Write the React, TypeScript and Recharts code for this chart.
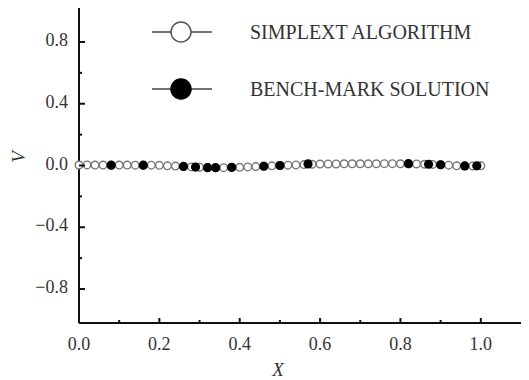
import { ScatterChart, Scatter, XAxis, YAxis } from 'recharts';

// simplex algorithm samples (open circles)
const simplexX = [
  0.0, 0.02, 0.04, 0.06, 0.08, 0.1, 0.12, 0.14, 0.16, 0.18, 0.2,
  0.22, 0.24, 0.26, 0.28, 0.3, 0.32, 0.34, 0.36, 0.38, 0.4,
  0.42, 0.44, 0.46, 0.48,
  0.5, 0.52, 0.54, 0.56, 0.58, 0.6, 0.62, 0.64, 0.66, 0.68,
  0.7, 0.72, 0.74, 0.76, 0.78, 0.8, 0.82, 0.84,
  0.86, 0.88, 0.9, 0.92, 0.94, 0.96, 0.98, 1.0,
];
const simplexY = [
  0.003, 0.004, 0.003, 0.003, 0.002, 0.003, 0.003, 0.002, 0.002, 0.002, 0.001,
  -0.002, -0.004, -0.006, -0.009, -0.011, -0.013, -0.014, -0.014, -0.013, -0.012,
  -0.009, -0.007, -0.004, -0.002,
  0.0, 0.002, 0.004, 0.006, 0.008, 0.009, 0.01, 0.01, 0.011, 0.011,
  0.011, 0.011, 0.011, 0.012, 0.012, 0.011, 0.011, 0.01,
  0.008, 0.007, 0.005, 0.002, -0.002, -0.004, -0.003, -0.002,
];

// bench-mark solution (filled circles)
const benchX = [0.08, 0.16, 0.26, 0.29, 0.32, 0.34, 0.38, 0.46, 0.5, 0.57, 0.82, 0.87, 0.9, 0.96, 0.99];
const benchY = [0.002, 0.002, -0.006, -0.01, -0.014, -0.014, -0.012, -0.005, 0.0, 0.01, 0.012, 0.008, 0.005, -0.003, -0.002];

const xTicks = [0, 0.1, 0.2, 0.3, 0.4, 0.5, 0.6, 0.7, 0.8, 0.9, 1.0];
const yTicks = [-0.8, -0.6, -0.4, -0.2, 0, 0.2, 0.4, 0.6, 0.8];
const yMajor = [-0.8, -0.4, 0, 0.4, 0.8];

const legendItems = [
  { name: 'SIMPLEXT ALGORITHM', filled: false },
  { name: 'BENCH-MARK SOLUTION', filled: true },
];

const simplexData = simplexX.map((x, i) => ({ x, y: simplexY[i] }));
const benchData = benchX.map((x, i) => ({ x, y: benchY[i] }));

const FONT = '"Liberation Serif", "DejaVu Serif", serif';
const AXIS_X = 79;
const AXIS_Y = 323;

const fmt = (v: number) => {
  const s = Math.abs(v).toFixed(1);
  return v < -1e-9 ? '\u2212' + s : s;
};

const XTick = ({ x, payload }: any) => {
  const major = Math.round(payload.value * 10) % 2 === 0;
  return (
    <g>
      {payload.value > 0 && (
        <line x1={x} x2={x} y1={AXIS_Y} y2={AXIS_Y - (major ? 5 : 3)} stroke="#111" strokeWidth={2} />
      )}
      {major && (
        <text x={x} y={AXIS_Y + 27} textAnchor="middle" fontFamily={FONT} fontSize={18} fill="#333">
          {fmt(payload.value)}
        </text>
      )}
    </g>
  );
};

const YTick = ({ y, payload }: any) => {
  const major = yMajor.some((m) => Math.abs(m - payload.value) < 1e-6);
  return (
    <g>
      <line x1={AXIS_X} x2={AXIS_X + (major ? 6 : 3)} y1={y} y2={y} stroke="#111" strokeWidth={2} />
      {major && (
        <text x={AXIS_X - 11} y={y + 4} textAnchor="end" fontFamily={FONT} fontSize={18} fill="#333">
          {fmt(payload.value)}
        </text>
      )}
    </g>
  );
};

const OpenDot = ({ cx, cy }: any) => (
  <circle cx={cx} cy={cy} r={3.8} fill="#fff" stroke="#777" strokeWidth={1.4} />
);
const FilledDot = ({ cx, cy }: any) => <circle cx={cx} cy={cy} r={4.6} fill="#000" />;

const App = () => {
  return (
    <div style={{ position: 'absolute', left: 0, top: 0, width: 529, height: 380, background: '#fff' }}>
      <ScatterChart width={529} height={380} margin={{ top: 8, right: 8, bottom: 17, left: 19 }}>
        <XAxis
          type="number"
          dataKey="x"
          domain={[0, 1.1]}
          ticks={xTicks}
          height={40}
          axisLine={{ stroke: '#111', strokeWidth: 2 }}
          tickLine={false}
          tick={<XTick />}
          interval={0}
          label={{
            content: () => (
              <text x={278} y={376} textAnchor="middle" fontFamily={FONT} fontStyle="italic" fontSize={19} fill="#333">
                X
              </text>
            ),
          }}
        />
        <YAxis
          type="number"
          dataKey="y"
          domain={[-1.02, 1.02]}
          ticks={yTicks}
          width={60}
          axisLine={{ stroke: '#111', strokeWidth: 2 }}
          tickLine={false}
          tick={<YTick />}
          interval={0}
          label={{
            content: () => (
              <text
                x={18}
                y={157}
                transform="rotate(-90 18 157)"
                textAnchor="middle"
                dominantBaseline="central"
                fontFamily={FONT}
                fontStyle="italic"
                fontSize={19}
                fill="#333"
              >
                V
              </text>
            ),
          }}
        />
        <Scatter
          data={simplexData}
          line={{ stroke: '#999', strokeWidth: 1 }}
          shape={<OpenDot />}
          isAnimationActive={false}
        />
        <Scatter data={benchData} shape={<FilledDot />} isAnimationActive={false} />
      </ScatterChart>
      {legendItems.map((item, i) => (
        <div
          key={item.name}
          style={{ position: 'absolute', left: 150, top: 19 + i * 57, height: 26, display: 'flex', alignItems: 'center' }}
        >
          <svg width={64} height={26}>
            <line x1={2} x2={62} y1={13} y2={13} stroke="#444" strokeWidth={1.5} />
            <circle
              cx={31}
              cy={13}
              r={10}
              fill={item.filled ? '#000' : '#fff'}
              stroke={item.filled ? '#000' : '#555'}
              strokeWidth={1.5}
            />
          </svg>
          <span style={{ marginLeft: 36, fontFamily: FONT, fontSize: 20, color: '#333', whiteSpace: 'nowrap' }}>
            {item.name}
          </span>
        </div>
      ))}
    </div>
  );
};

export default App;
